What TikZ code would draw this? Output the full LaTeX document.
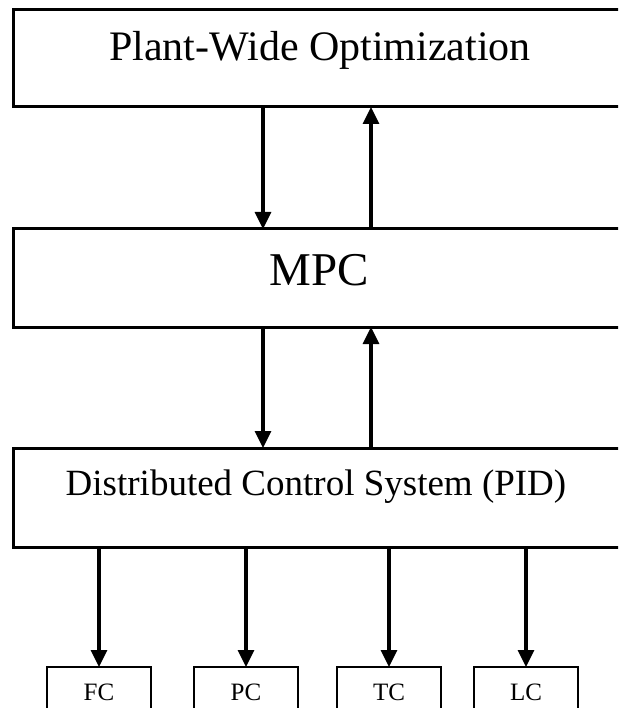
\documentclass[tikz,border=0pt]{standalone}
\usepackage{fontspec}
\setmainfont{Liberation Serif}
\usetikzlibrary{arrows.meta}
\begin{document}
\begin{tikzpicture}[x=1pt,y=-1pt,
  layer/.style={draw,line width=3pt,inner sep=0pt,outer sep=0pt,anchor=north west,minimum width=627pt},
  loop/.style={draw,line width=2.8pt,inner sep=0pt,outer sep=0pt,anchor=north west,minimum width=104pt,minimum height=50pt},
  flow/.style={line width=3.2pt,-{Triangle[length=17pt,width=16pt]}},
  title/.style={anchor=base,inner sep=0pt}]
\clip (0,0) rectangle (618,708);
\fill[white] (0,0) rectangle (618,708);

% three control layers
\node[layer,minimum height=97pt] (pwo) at (13,10) {};
\node[layer,minimum height=98pt] (mpc) at (13,229) {};
\node[layer,minimum height=99pt] (dcs) at (13,448) {};

\node[title,font=\fontsize{42}{42}\selectfont] (tpwo) at (320,61) {Plant-Wide Optimization};
\node[title,font=\fontsize{47}{47}\selectfont] (tmpc) at (319,285) {MPC};
\node[title,font=\fontsize{37}{37}\selectfont] (tdcs) at (316,495) {Distributed Control System (PID)};

% field loops
\node[loop] (fc) at (47,667) {};
\node[loop] (pc) at (194,667) {};
\node[loop] (tc) at (337,667) {};
\node[loop] (lc) at (474,667) {};
\foreach \b/\t in {fc/FC,pc/PC,tc/TC,lc/LC}
  \node[title,font=\fontsize{25}{25}\selectfont] at (\b.north |- 0,700) {\t};

% set-point and feedback connectors
\coordinate (dn) at (263,0);
\coordinate (up) at (371,0);
\draw[flow] (pwo.south -| dn) -- (mpc.north -| dn);
\draw[flow] (mpc.north -| up) -- (pwo.south -| up);
\draw[flow] (mpc.south -| dn) -- (dcs.north -| dn);
\draw[flow] (dcs.north -| up) -- (mpc.south -| up);
\foreach \b in {fc,pc,tc,lc}
  \draw[flow] (dcs.south -| \b.north) -- (\b.north);
\end{tikzpicture}
\end{document}
